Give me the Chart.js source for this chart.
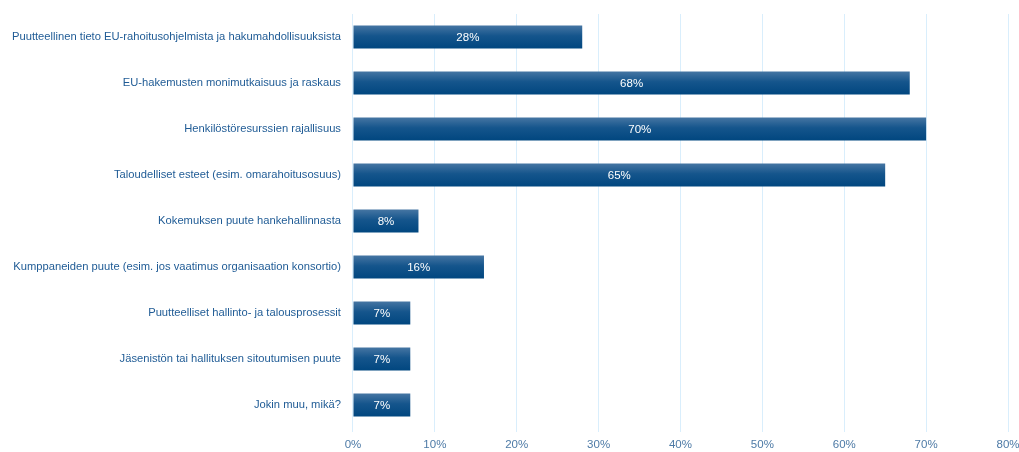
<!DOCTYPE html>
<html>
<head>
<meta charset="utf-8">
<script src="https://cdn.jsdelivr.net/npm/chart.js@4"></script>
<style>
  html, body { margin: 0; padding: 0; background: #fff; }
  #wrap { width: 1019px; height: 452px; }
</style>
</head>
<body>
<div id="wrap"><canvas id="chart"></canvas></div>
<script>
// Data
const categories = [
  "Puutteellinen tieto EU-rahoitusohjelmista ja hakumahdollisuuksista",
  "EU-hakemusten monimutkaisuus ja raskaus",
  "Henkilöstöresurssien rajallisuus",
  "Taloudelliset esteet (esim. omarahoitusosuus)",
  "Kokemuksen puute hankehallinnasta",
  "Kumppaneiden puute (esim. jos vaatimus organisaation konsortio)",
  "Puutteelliset hallinto- ja talousprosessit",
  "Jäsenistön tai hallituksen sitoutumisen puute",
  "Jokin muu, mikä?"
];
const values = [28, 68, 70, 65, 8, 16, 7, 7, 7];
const xTicks = [0, 10, 20, 30, 40, 50, 60, 70, 80];

const FONT = "'Liberation Sans', Arial, sans-serif";

// Dégradé par barre
function barGradient(ctx) {
  const chart = ctx.chart;
  const y = chart.scales.y;
  if (!y || ctx.dataIndex === undefined) return "#1d5a8e";
  const c = y.getPixelForValue(ctx.dataIndex);
  if (!isFinite(c)) return "#1d5a8e";
  const g = chart.ctx.createLinearGradient(0, c - 12, 0, c + 12);
  g.addColorStop(0, "#4877a4");
  g.addColorStop(0.45, "#15558c");
  g.addColorStop(1, "#00467f");
  return g;
}

// Étiquettes dans les barres
const barLabels = {
  id: "barLabels",
  afterDatasetsDraw(chart) {
    const ctx = chart.ctx;
    const meta = chart.getDatasetMeta(0);
    ctx.save();
    ctx.fillStyle = "#ffffff";
    ctx.font = "11.5px " + FONT;
    ctx.textAlign = "center";
    ctx.textBaseline = "middle";
    meta.data.forEach((bar, i) => {
      const x = (bar.x + bar.base) / 2;
      ctx.fillText(values[i] + "%", x, bar.y + 1);
    });
    ctx.restore();
  }
};

new Chart(document.getElementById("chart"), {
  type: "bar",
  data: {
    labels: categories,
    datasets: [{
      data: values,
      backgroundColor: barGradient,
      borderWidth: 0,
      barPercentage: 0.5,
      categoryPercentage: 1
    }]
  },
  options: {
    indexAxis: "y",
    responsive: true,
    maintainAspectRatio: false,
    animation: false,
    layout: { padding: { top: 14, right: 11, bottom: 0, left: 0 } },
    plugins: { legend: { display: false }, tooltip: { enabled: false } },
    scales: {
      x: {
        min: 0, max: 80,
        afterBuildTicks: s => { s.ticks = xTicks.map(v => ({ value: v })); },
        afterFit: s => { s.height = 24; s.paddingLeft = 0; s.paddingRight = 0; },
        grid: { color: "#d9eefc", drawTicks: true, tickLength: 4 },
        border: { display: false },
        ticks: {
          color: "#4d7aa6",
          font: { family: FONT, size: 11.5 },
          padding: 6,
          callback: v => v + "%"
        }
      },
      y: {
        afterFit: s => { s.paddingTop = 0; s.paddingBottom = 0; },
        grid: { display: false, drawTicks: false },
        border: { display: false },
        ticks: {
          color: "#1f5b95",
          font: { family: FONT, size: 11.2 },
          padding: 12,
          autoSkip: false
        }
      }
    }
  },
  plugins: [barLabels]
});
</script>
</body>
</html>
